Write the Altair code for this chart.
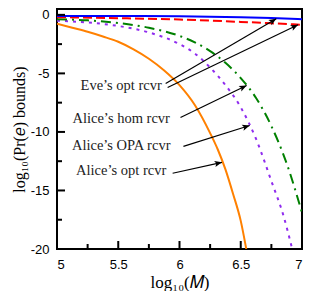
import math
import altair as alt
import pandas as pd

# ---- data ----
blue_x = [5.0, 5.5, 6.0, 6.5, 6.75, 7.0]
blue_y = [-0.10, -0.10, -0.12, -0.20, -0.27, -0.38]

red_x = [5.0, 5.5, 6.0, 6.5, 6.75, 7.0]
red_y = [-0.20, -0.28, -0.40, -0.60, -0.72, -0.85]

green_x = [5.0, 5.25, 5.5, 5.75, 6.0, 6.125, 6.25, 6.375, 6.5, 6.625, 6.75, 6.875, 7.0]
green_y = [-0.37, -0.47, -0.70, -1.1, -1.8, -2.35, -3.1, -4.1, -5.4, -7.1, -9.5, -12.7, -16.9]

purple_x = [5.0, 5.25, 5.5, 5.75, 6.0, 6.125, 6.25, 6.375, 6.5, 6.625, 6.75, 6.85, 6.92]
purple_y = [-0.5, -0.65, -0.95, -1.5, -2.5, -3.3, -4.5, -6.0, -7.9, -10.6, -14.2, -17.2, -20.0]

orange_x = [5.0, 5.125, 5.25, 5.375, 5.5, 5.625, 5.75, 5.875, 6.0, 6.125, 6.25, 6.3125, 6.375, 6.4375, 6.5, 6.545]
orange_y = [-0.75, -1.1, -1.45, -1.85, -2.3, -2.95, -3.75, -4.75, -6.0, -7.7, -10.1, -11.5, -13.2, -15.3, -17.6, -20.0]

label_text = ["Eve\u2019s opt rcvr", "Alice\u2019s hom rcvr", "Alice\u2019s OPA rcvr", "Alice\u2019s opt rcvr"]
label_x = [5.524, 5.524, 5.524, 5.524]
label_y = [-6.41, -9.22, -11.52, -13.64]

arrow_x1 = [5.887, 5.903, 6.008, 6.032, 5.944]
arrow_y1 = [-5.87, -6.21, -8.77, -11.23, -13.53]
arrow_x2 = [6.79, 6.968, 6.548, 6.573, 6.347]
arrow_y2 = [-0.34, -0.85, -6.04, -9.45, -12.60]

y_major = [0, -5, -10, -15, -20]
y_minor = [-2.5, -7.5, -12.5, -17.5]
x_major = [5, 5.5, 6, 6.5, 7]
x_minor = [5.25, 5.75, 6.25, 6.75]

# ---- layout ----
W, H = 245, 240
XD = [5, 7]
YD = [-20, 0.5]
xs = alt.Scale(domain=XD, nice=False, zero=False)
ys = alt.Scale(domain=YD, nice=False, zero=False)

SERIF = "Liberation Serif"
SANS = "Liberation Sans"

x_axis = alt.Axis(values=x_major, ticks=False, domain=False, grid=False,
                  labelExpr="toString(datum.value)", labelFont=SANS, labelFontSize=13,
                  labelColor="black", labelPadding=9,
                  title="log\u2081\u2080(\U0001D440)", titleFont=SERIF, titleFontSize=17,
                  titleFontWeight="normal", titleColor="black", titlePadding=3)
y_axis = alt.Axis(values=y_major, ticks=False, domain=False, grid=False,
                  labelExpr="datum.value < 0 ? '-' + toString(-datum.value) : toString(datum.value)",
                  labelFont=SANS, labelFontSize=13, labelColor="black", labelPadding=8,
                  title="log\u2081\u2080(Pr(\U0001D452) bounds)", titleFont=SERIF, titleFontSize=16,
                  titleFontWeight="normal", titleColor="black", titlePadding=3)


def X(field):
    return alt.X(field, scale=xs, axis=x_axis)


def Y(field):
    return alt.Y(field, scale=ys, axis=y_axis)


def line(xv, yv, color, dash=None):
    df = pd.DataFrame({"x": xv, "y": yv})
    kw = dict(color=color, strokeWidth=2, clip=True, interpolate="monotone")
    if dash:
        kw["strokeDash"] = dash
    return alt.Chart(df).mark_line(**kw).encode(x=X("x:Q"), y=Y("y:Q"))


orange = line(orange_x, orange_y, "#ff8000")
purple = line(purple_x, purple_y, "#8f2bef", dash=[3, 5])
green = line(green_x, green_y, "#008000", dash=[10, 5, 2, 5])
red = line(red_x, red_y, "#ff0000", dash=[9, 4])
blue = line(blue_x, blue_y, "#0000ff")

# labels
lab_df = pd.DataFrame({"t": label_text, "x": label_x, "y": label_y})
labels = alt.Chart(lab_df).mark_text(font=SERIF, fontSize=14.5, color="#222",
                                     align="center", baseline="alphabetic").encode(
    x=X("x:Q"), y=Y("y:Q"), text="t:N")

# arrows
px_x = W / (XD[1] - XD[0])
px_y = H / (YD[1] - YD[0])
angles = []
for a, b, c, d in zip(arrow_x1, arrow_y1, arrow_x2, arrow_y2):
    ang = math.degrees(math.atan2(-(d - b) * px_y, (c - a) * px_x)) % 360
    angles.append(ang)
arr_df = pd.DataFrame({"x1": arrow_x1, "y1": arrow_y1, "x2": arrow_x2, "y2": arrow_y2, "ang": angles})
arrow_lines = alt.Chart(arr_df).mark_rule(color="black", strokeWidth=1.2).encode(
    x=X("x1:Q"), y=Y("y1:Q"), x2="x2:Q", y2="y2:Q")
arrow_heads = alt.Chart(arr_df).mark_point(
    shape="M0,0 L-1,-0.42 L-0.78,0 L-1,0.42 Z", filled=True, color="black", opacity=1, size=220
).encode(x=X("x2:Q"), y=Y("y2:Q"), angle=alt.Angle("ang:Q", scale=None))

# inward ticks
ymaj = alt.Chart(pd.DataFrame({"v": y_major})).mark_rule(color="black", strokeWidth=2).encode(
    y=Y("v:Q"), x=alt.value(0), x2=alt.value(8))
ymin = alt.Chart(pd.DataFrame({"v": y_minor})).mark_rule(color="black", strokeWidth=2).encode(
    y=Y("v:Q"), x=alt.value(0), x2=alt.value(5))
xmaj = alt.Chart(pd.DataFrame({"v": x_major})).mark_rule(color="black", strokeWidth=2).encode(
    x=X("v:Q"), y=alt.value(H), y2=alt.value(H - 8))
xmin = alt.Chart(pd.DataFrame({"v": x_minor})).mark_rule(color="black", strokeWidth=2).encode(
    x=X("v:Q"), y=alt.value(H), y2=alt.value(H - 5))

chart = alt.layer(orange, purple, green, red, blue, labels, arrow_lines, arrow_heads,
                  ymaj, ymin, xmaj, xmin).properties(
    width=W, height=H,
    autosize=alt.AutoSizeParams(type="none"),
    padding={"left": 49, "top": 1, "right": 1, "bottom": 42},
    background="white",
).configure_view(stroke="black", strokeWidth=2)

chart.save("out.html", embed_options={"renderer": "svg", "actions": False})
